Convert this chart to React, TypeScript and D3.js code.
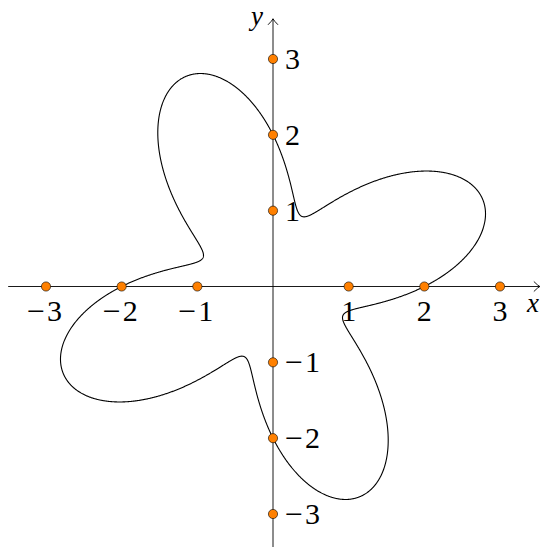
import React from "react";
import * as d3 from "d3";

const xTicks = [-3, -2, -1, 1, 2, 3];
const yTicks = [-3, -2, -1, 1, 2, 3];
const xTickLabels = ["−3", "−2", "−1", "1", "2", "3"];
const yTickLabels = ["−3", "−2", "−1", "1", "2", "3"];
// Polar rose r = a + b·sin(k·θ)
const roseBase = 2;
const roseAmp = 1;
const roseFreq = 4;
const axisExtent = [-3.5, 3.5];

const W = 541;
const H = 547;

const font = "'Liberation Serif', 'DejaVu Serif', serif";
const fs = 30;

// A math-style label: a wide minus sign followed by the digits
function Label({ s, ...rest }: { s: string; [k: string]: any }) {
  const neg = s.startsWith("−");
  return (
    <text fontFamily={font} fontSize={fs} {...rest}>
      {neg ? (
        <>
          <tspan textLength={18} lengthAdjust="spacingAndGlyphs">−</tspan>
          <tspan dx={2}>{s.slice(1)}</tspan>
        </>
      ) : (
        s
      )}
    </text>
  );
}

export default function App() {
  const x = d3.scaleLinear().domain([-3, 3]).range([46, 500]);
  const y = d3.scaleLinear().domain([-3, 3]).range([514, 59]);

  const thetas = d3.range(0, 2 * Math.PI + 0.0005, 0.002);
  const pts: [number, number][] = thetas.map((t) => {
    const r = roseBase + roseAmp * Math.sin(roseFreq * t);
    return [r * Math.cos(t), r * Math.sin(t)];
  });
  const line = d3
    .line<[number, number]>()
    .x((d) => x(d[0]))
    .y((d) => y(d[1]));

  const x0 = x(0);
  const y0 = y(0);
  const xL = x(axisExtent[0]);
  const xR = x(axisExtent[1]) + 2;
  const yT = y(3.53);
  const yB = H + 2;

  return (
    <svg
      width={W}
      height={H}
      style={{ position: "absolute", left: 0, top: 0, background: "#fff" }}
    >
      {/* axes */}
      <line x1={xL} y1={y0} x2={xR} y2={y0} stroke="#000" strokeWidth={0.9} />
      <line x1={x0} y1={yB} x2={x0} y2={yT} stroke="#000" strokeWidth={0.9} />
      <path
        d={`M${xR - 6},${y0 - 5} Q${xR - 2},${y0 - 1} ${xR},${y0} Q${xR - 2},${y0 + 1} ${xR - 6},${y0 + 5}`}
        fill="none"
        stroke="#000"
        strokeWidth={0.9}
      />
      <path
        d={`M${x0 - 5},${yT + 6} Q${x0 - 1},${yT + 2} ${x0},${yT} Q${x0 + 1},${yT + 2} ${x0 + 5},${yT + 6}`}
        fill="none"
        stroke="#000"
        strokeWidth={0.9}
      />
      <text x={527} y={y0 + 25} fontFamily={font} fontStyle="italic" fontSize={27}>
        x
      </text>
      <text x={x0 - 10} y={25} fontFamily={font} fontStyle="italic" fontSize={27} textAnchor="end">
        y
      </text>

      {/* curve */}
      <path d={line(pts) || ""} fill="none" stroke="#000" strokeWidth={1.1} />

      {/* x tick labels */}
      {xTicks.map((v, i) => (
        <Label key={"xl" + i} s={xTickLabels[i]} x={x(v) + (v < 0 ? -19 : 0)} y={y0 + 34} textAnchor={v < 0 ? "start" : "middle"} />
      ))}
      {/* y tick labels */}
      {yTicks.map((v, i) => (
        <Label key={"yl" + i} s={yTickLabels[i]} x={x0 + 12} y={y(v) + 10} textAnchor="start" />
      ))}

      {/* points on axes */}
      {xTicks.map((v, i) => (
        <circle key={"xp" + i} cx={x(v)} cy={y0} r={4.6} fill="#ff8000" stroke="#000" strokeWidth={0.6} />
      ))}
      {yTicks.map((v, i) => (
        <circle key={"yp" + i} cx={x0} cy={y(v)} r={4.6} fill="#ff8000" stroke="#000" strokeWidth={0.6} />
      ))}
    </svg>
  );
}
